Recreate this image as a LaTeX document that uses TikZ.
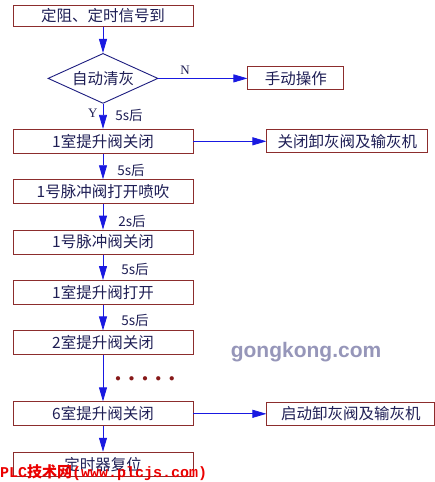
\documentclass[tikz,border=0pt]{standalone}
\usepackage{fontspec}
\usepackage{xcolor}
\usepackage{tikz}
\usetikzlibrary{positioning, shapes.geometric, arrows.meta}

\setmainfont{Liberation Serif}
\newfontfamily\cjk{Noto Sans CJK SC}
\newfontfamily\wmmono{Liberation Mono}
\newfontfamily\wmsans{Liberation Sans}

\definecolor{boxred}{RGB}{140,45,45}
\definecolor{flowblue}{RGB}{25,25,225}
\definecolor{textnavy}{RGB}{30,30,85}
\definecolor{dotred}{RGB}{135,25,25}
\definecolor{wmgray}{RGB}{150,150,185}
\definecolor{wmred}{RGB}{235,0,0}

\begin{document}
\begin{tikzpicture}[
    x=1pt, y=-1pt,
    node distance=25.5pt,
    stepbox/.style={rectangle, draw=boxred, line width=0.9pt, minimum width=180pt, minimum height=24pt, inner sep=0pt, align=center, text=textnavy, font=\cjk\fontsize{15.5}{18}\selectfont},
    sidebox/.style={stepbox, minimum height=23pt},
    decision/.style={diamond, aspect=2.2, draw=textnavy!70!flowblue, line width=0.9pt, minimum width=110pt, minimum height=50pt, inner sep=0pt, text=textnavy, font=\cjk\fontsize{15.5}{18}\selectfont},
    flow/.style={draw=flowblue, line width=0.8pt, -{Triangle[length=14pt, width=8pt]}},
    delay/.style={inner sep=0pt, text=textnavy, font=\cjk\fontsize{13.5}{16}\selectfont},
    answer/.style={inner sep=0pt, text=textnavy, font=\fontsize{13}{15}\selectfont}
]
    \useasboundingbox (0,0) rectangle (435,482);

    % Main column
    \node[stepbox, minimum height=21pt] (Signal) at (103,16) {定阻、定时信号到};
    \node[decision, below=26pt of Signal] (AutoClean) {自动清灰};
    \node[stepbox] (Close1)    [below=25pt of AutoClean] {1室提升阀关闭};
    \node[stepbox] (Pulse1On)  [below=of Close1]    {1号脉冲阀打开喷吹};
    \node[stepbox] (Pulse1Off) [below=of Pulse1On]  {1号脉冲阀关闭};
    \node[stepbox] (Open1)     [below=of Pulse1Off] {1室提升阀打开};
    \node[stepbox] (Close2)    [below=of Open1]     {2室提升阀关闭};
    \node[stepbox] (Close6)    [below=46pt of Close2] {6室提升阀关闭};
    \node[stepbox] (Reset)     [below=of Close6]    {定时器复位};

    % Side boxes
    \node[sidebox, minimum width=96pt]  (Manual)   [right=89pt of AutoClean] {手动操作};
    \node[sidebox, minimum width=161pt] (StopDis)  [right=73pt of Close1] {关闭卸灰阀及输灰机};
    \node[sidebox, minimum width=168pt] (StartDis) [right=73pt of Close6] {启动卸灰阀及输灰机};

    % Ellipsis between chambers
    \node[inner sep=0pt, text=dotred, font=\fontsize{11}{12}\selectfont] (Ellipsis) at (145,379)
        {$\bullet$\hspace{8pt}$\bullet$\hspace{8pt}$\bullet$\hspace{8pt}$\bullet$\hspace{8pt}$\bullet$};

    % Connectors
    \draw[flow] (Signal) -- (AutoClean);
    \draw[flow] (AutoClean) -- node[answer, pos=0.36, left=5pt] {Y}
        node[delay, pos=0.48, right=12pt] {5s后} (Close1);
    \draw[flow] (AutoClean) -- node[answer, pos=0.3, above=4pt] {N} (Manual);
    \draw[flow] (Close1) -- (StopDis);
    \draw[flow] (Close1) -- node[delay, pos=0.64, right=14pt] {5s后} (Pulse1On);
    \draw[flow] (Pulse1On) -- node[delay, pos=0.66, right=15pt] {2s后} (Pulse1Off);
    \draw[flow] (Pulse1Off) -- node[delay, pos=0.58, right=18pt] {5s后} (Open1);
    \draw[flow] (Open1) -- node[delay, pos=0.6, right=18pt] {5s后} (Close2);
    \draw[flow] (Close2) -- (Close6);
    \draw[flow] (Close6) -- (StartDis);
    \draw[flow] (Close6) -- (Reset);

    % Watermarks
    \node[text=wmgray, font=\wmsans\bfseries\fontsize{21}{22}\selectfont] (Gongkong) at (306,352) {gongkong.com};
    \node[anchor=base west, inner sep=0pt, text=wmred, font=\wmmono\bfseries\fontsize{15}{16}\selectfont] (PlcMark) at (0,477)
        {PLC{\cjk\bfseries 技术网}(www.plcjs.com)};
\end{tikzpicture}
\end{document}
